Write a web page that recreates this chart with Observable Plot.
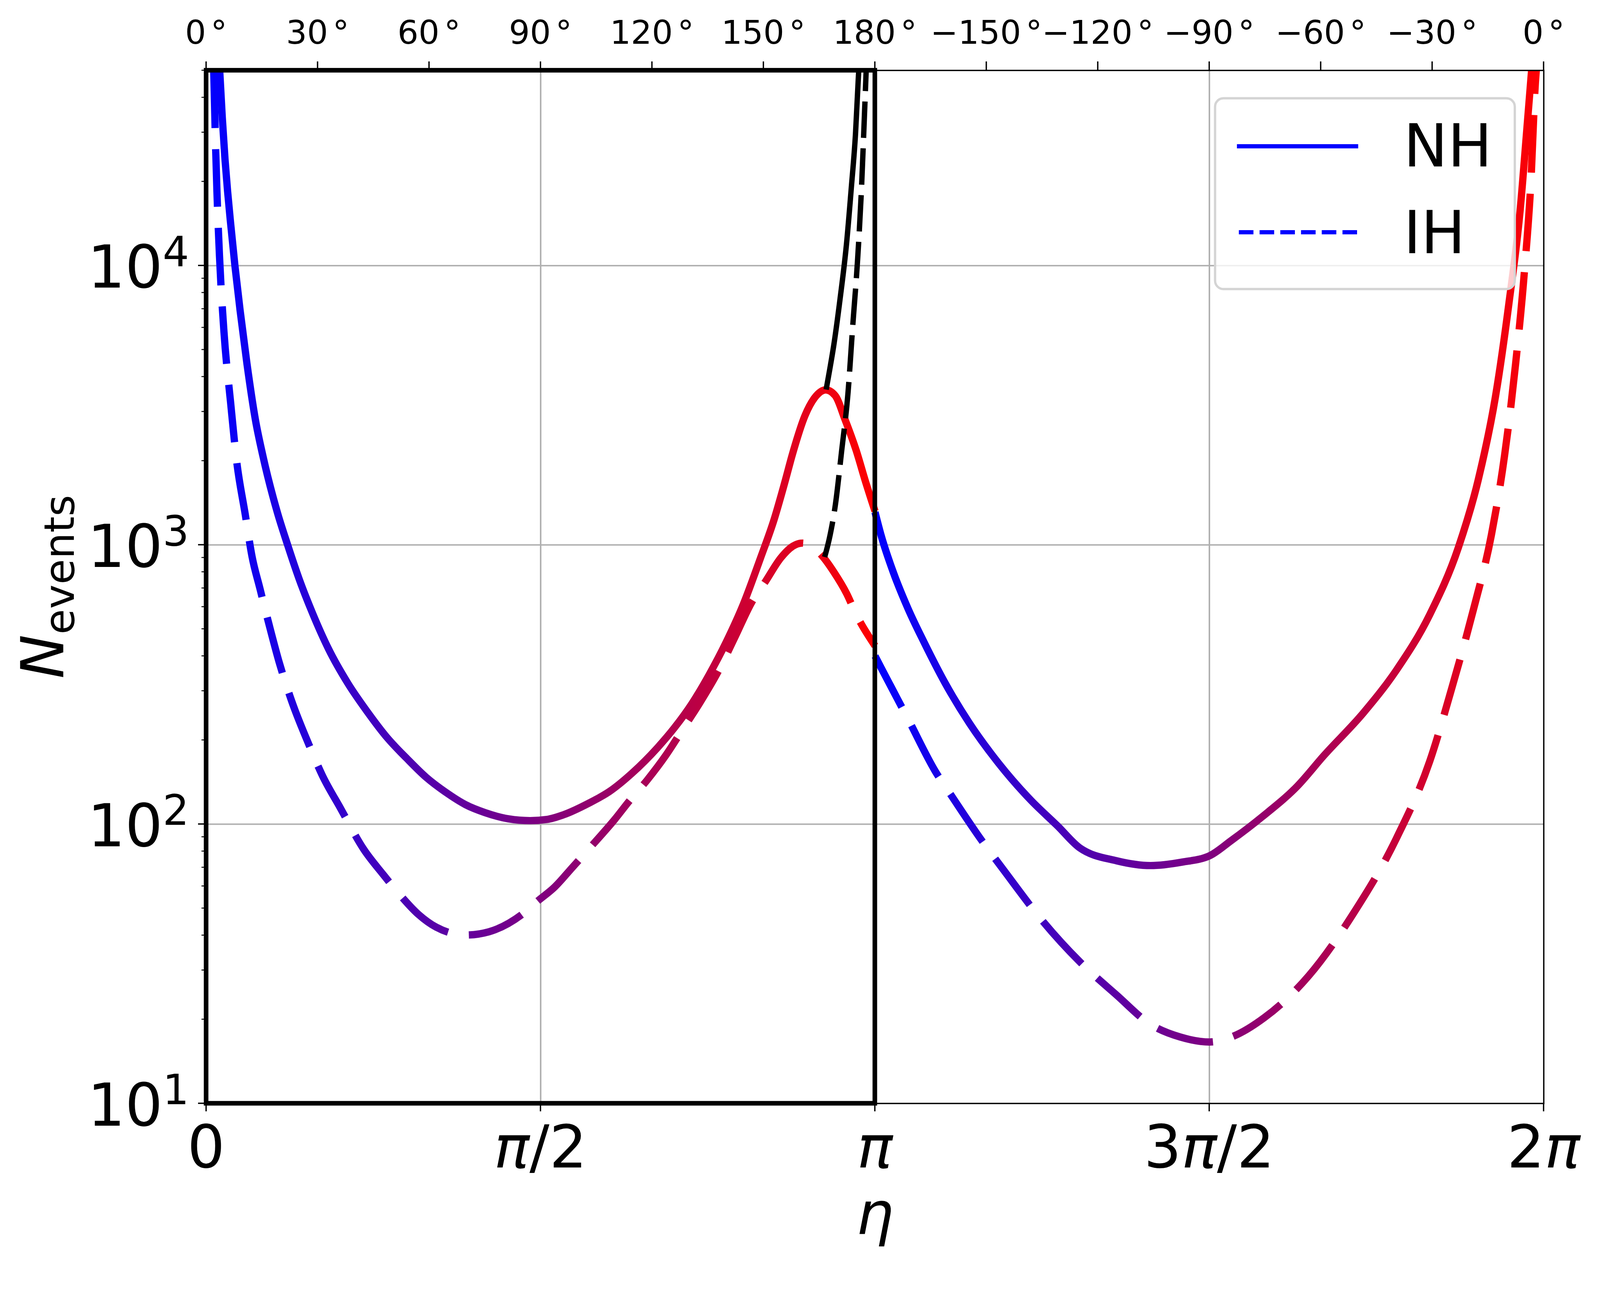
<!DOCTYPE html>
<html><head><meta charset="utf-8">
<script src="https://cdn.jsdelivr.net/npm/d3@7"></script>
<script src="https://cdn.jsdelivr.net/npm/@observablehq/plot@0.6"></script>
<style>html,body{margin:0;padding:0;background:#fff;} svg{display:block}</style>
</head><body><div id="chart"></div>
<script>
const PI = Math.PI;

// NH (solid), first half 0..pi
const nhLeftEta = [0.063,0.075,0.088,0.100,0.115,0.1345,0.159,0.191,0.231,0.2655,0.3344,0.3806,0.4357,0.5001,0.5737,0.6657,0.7576,0.8498,0.9418,1.0337,1.1257,1.2177,1.3098,1.4202,1.5214,1.600,1.677,1.798,1.8945,1.999,2.120,2.2003,2.281,2.3614,2.442,2.5225,2.603,2.667,2.720,2.753,2.813,2.858,2.910,2.955,3.000,3.053,3.097,3.1416];
const nhLeftN   = [50000,34000,24000,18500,14000,10000,6900,4460,2800,2090,1303,1008,757,567,425,319,252,204,172,147,130,117.5,110,104.5,103,104,108,119,131,152,188,222,270,342,448,612,895,1230,1700,2105,2910,3365,3590,3420,2820,2180,1684,1320];
// IH (dashed), first half
const ihLeftEta = [0.035,0.042,0.050,0.062,0.083,0.114,0.1425,0.1827,0.2148,0.2516,0.2931,0.3437,0.3989,0.4817,0.546,0.6289,0.7392,0.8314,0.905,0.997,1.0797,1.2177,1.328,1.4938,1.556,1.637,1.7175,1.822,1.9187,1.983,2.0716,2.160,2.2406,2.321,2.4018,2.482,2.5627,2.627,2.6996,2.756,2.800,2.843,2.895,2.948,3.008,3.053,3.1416];
const ihLeftN   = [50000,30000,18500,10840,5800,3250,2000,1290,910,700,525,377,279,193,149,114.6,81.4,66,56.4,47.5,42.8,40.1,41.2,48.2,53,59.6,69.7,85.6,104,120,144,177,220,274,349,465,624,740,900,990,1015,990,910,800,670,564,435];
// black branches near eta ~ pi
const blackSolidEta = [2.912,2.930,2.948,2.978,3.008,3.030,3.050,3.065];
const blackSolidN   = [3600,4300,5200,7670,12050,18930,29760,50000];
const blackDashEta  = [2.905,2.930,2.955,2.985,3.015,3.037,3.060,3.078,3.090,3.100];
const blackDashN    = [905,1080,1387,2180,3530,6110,10590,18930,31800,50000];
// second half pi..2pi
const nhRightEta = [3.1416,3.171,3.228,3.298,3.372,3.470,3.585,3.723,3.873,3.999,4.103,4.275,4.436,4.586,4.712,4.816,4.961,5.126,5.250,5.437,5.592,5.747,5.882,5.975,6.058,6.120,6.172,6.203,6.226];
const nhRightN   = [1310,1076,796,588,448,321,230,165,122,98.6,82.3,74,71.1,73.2,77,87.5,106.4,137,176,251,357,562,979,1706,3460,7380,15740,30330,50000];
const ihRightEta = [3.1416,3.171,3.298,3.424,3.505,3.643,3.746,3.930,4.103,4.275,4.436,4.575,4.712,4.816,4.971,5.178,5.385,5.592,5.747,5.851,5.954,6.037,6.099,6.151,6.192,6.223,6.244,6.248];
const ihRightN   = [400,362,237,155,125,87.4,68.5,44.9,32.2,24.5,19.2,17.3,16.6,17.3,20.3,28.6,47.4,89.3,167.6,307,592,1084,2090,4460,9490,20230,45500,50000];

// axes
const xTickValues = [0, PI/2, PI, 3*PI/2, 2*PI];
const xTickLabels = ["0", "π/2", "π", "3π/2", "2π"];
const topTickDeg = [0,30,60,90,120,150,180,210,240,270,300,330,360];
const topTickLabels = ["0°","30°","60°","90°","120°","150°","180°","−150°","−120°","−90°","−60°","−30°","0°"];
const yTickValues = [10, 100, 1000, 10000];
const yTickExp = ["1","2","3","4"];
const gridEta = [PI/2, PI, 3*PI/2];
const gridN = [100, 1000, 10000];
const boxRegion = [{x1: 0, x2: PI, y1: 10, y2: 50000}];
const legendItems = ["NH", "IH"];

(function () {
const rows = (eta, n) => eta.map((e, i) => ({eta: e, n: n[i]}));
const lineOpts = {x: "eta", y: "n", strokeWidth: 19, curve: "monotone-x", strokeLinecap: "butt", clip: true};

const chart = Plot.plot({
  width: 4169, height: 3299,
  marginLeft: 537, marginRight: 147, marginTop: 183, marginBottom: 425,
  style: {background: "white", fontFamily: "DejaVu Sans", fontSize: "154px"},
  x: {domain: [0, 2*PI], axis: null},
  y: {type: "log", domain: [10, 50000], axis: null},
  marks: [
    Plot.ruleX(gridEta, {stroke: "#b0b0b0", strokeWidth: 4}),
    Plot.ruleY(gridN, {stroke: "#b0b0b0", strokeWidth: 4}),
    Plot.line(rows(ihLeftEta, ihLeftN), {...lineOpts, stroke: "url(#gradL)", strokeDasharray: "150,55"}),
    Plot.line(rows(nhLeftEta, nhLeftN), {...lineOpts, stroke: "url(#gradL)"}),
    Plot.line(rows(blackDashEta, blackDashN), {...lineOpts, stroke: "black", strokeWidth: 14, strokeDasharray: "95,27"}),
    Plot.line(rows(blackSolidEta, blackSolidN), {...lineOpts, stroke: "black", strokeWidth: 14}),
    Plot.line(rows(ihRightEta, ihRightN), {...lineOpts, stroke: "url(#gradR)", strokeDasharray: "150,55"}),
    Plot.line(rows(nhRightEta, nhRightN), {...lineOpts, stroke: "url(#gradR)"}),
    Plot.frame({stroke: "black", strokeWidth: 3.5}),
    Plot.rect(boxRegion, {x1: "x1", x2: "x2", y1: "y1", y2: "y2", fill: "none", stroke: "black", strokeWidth: 12})
  ]
});
document.getElementById("chart").appendChild(chart);

const svg = d3.select(chart);
const sx = chart.scale("x"), sy = chart.scale("y");
const X = v => sx.apply(v), Y = v => sy.apply(v);
const pL = X(0), pR = X(2*PI), pB = Y(10), pT = Y(50000);

// gradients (colour runs blue -> red across each half)
const defs = svg.insert("defs", ":first-child");
function grad(id, a, b) {
  const g = defs.append("linearGradient").attr("id", id).attr("gradientUnits", "userSpaceOnUse")
    .attr("x1", X(a)).attr("x2", X(b)).attr("y1", 0).attr("y2", 0);
  g.append("stop").attr("offset", 0).attr("stop-color", "#0000ff");
  g.append("stop").attr("offset", 1).attr("stop-color", "#ff0000");
}
grad("gradL", 0, PI);
grad("gradR", PI, 2*PI);

// ticks
const ticks = svg.append("g").attr("stroke", "black").attr("stroke-width", 3.5);
xTickValues.forEach(v => ticks.append("line").attr("x1", X(v)).attr("x2", X(v)).attr("y1", pB).attr("y2", pB + 21));
topTickDeg.forEach(d => { const x = X(d * PI / 180); ticks.append("line").attr("x1", x).attr("x2", x).attr("y1", pT).attr("y2", pT - 23); });
yTickValues.forEach(v => ticks.append("line").attr("x1", pL - 21).attr("x2", pL).attr("y1", Y(v)).attr("y2", Y(v)));
const minor = [];
for (let k = 1; k <= 4; k++) for (let m = 2; m <= 9; m++) { const v = m * Math.pow(10, k); if (v <= 50000) minor.push(v); }
minor.forEach(v => ticks.append("line").attr("x1", pL - 12).attr("x2", pL).attr("y1", Y(v)).attr("y2", Y(v)).attr("stroke-width", 2.5));

// labels
const txt = svg.append("g").attr("fill", "black").attr("font-family", "DejaVu Sans");
function mathText(str, x, y, size) {
  const t = txt.append("text").attr("x", x).attr("y", y).attr("font-size", size).attr("text-anchor", "middle");
  for (const ch of str) t.append("tspan").attr("font-style", ch === "π" ? "italic" : null).text(ch);
}
xTickValues.forEach((v, i) => mathText(xTickLabels[i], X(v), pB + 167, 154));
topTickDeg.forEach((d, i) => {
  const s = topTickLabels[i];
  const t = txt.append("text").attr("x", X(d * PI / 180)).attr("y", pT - 69).attr("font-size", 86).attr("text-anchor", "middle");
  t.append("tspan").text(s.slice(0, -1));
  t.append("tspan").attr("dx", 12).text(s.slice(-1));
});
yTickValues.forEach((v, i) => {
  txt.append("text").attr("x", pL - 113).attr("y", Y(v) + 58).attr("font-size", 154).attr("text-anchor", "end").text("10");
  txt.append("text").attr("x", pL - 113).attr("y", Y(v) + 2).attr("font-size", 108).attr("text-anchor", "start").text(yTickExp[i]);
});
// axis titles
txt.append("text").attr("x", (pL + pR) / 2).attr("y", pB + 340).attr("font-size", 154).attr("text-anchor", "middle").attr("font-style", "italic").text("η");
const yt = txt.append("text").attr("transform", `translate(165,${(pT + pB) / 2}) rotate(-90)`).attr("font-size", 154).attr("text-anchor", "middle");
yt.append("tspan").attr("font-style", "italic").text("N");
yt.append("tspan").attr("font-size", 108).attr("dy", 27).text("events");

// legend
const lg = svg.append("g").attr("font-family", "DejaVu Sans").attr("text-anchor", "start").attr("fill", "black");
lg.append("rect").attr("x", 3166).attr("y", 256).attr("width", 781).attr("height", 497).attr("rx", 22)
  .attr("fill", "white").attr("fill-opacity", 0.8).attr("stroke", "#d4d4d4").attr("stroke-width", 6);
lg.append("line").attr("x1", 3223).attr("x2", 3539).attr("y1", 381).attr("y2", 381).attr("stroke", "#0000ff").attr("stroke-width", 11);
lg.append("line").attr("x1", 3228).attr("x2", 3539).attr("y1", 605).attr("y2", 605).attr("stroke", "#0000ff").attr("stroke-width", 11).attr("stroke-dasharray", "38,16");
lg.append("text").attr("x", 3657).attr("y", 434).attr("font-size", 154).attr("text-anchor", "start").text(legendItems[0]);
lg.append("text").attr("x", 3657).attr("y", 660).attr("font-size", 154).attr("text-anchor", "start").text(legendItems[1]);
})();
</script>
</body></html>
